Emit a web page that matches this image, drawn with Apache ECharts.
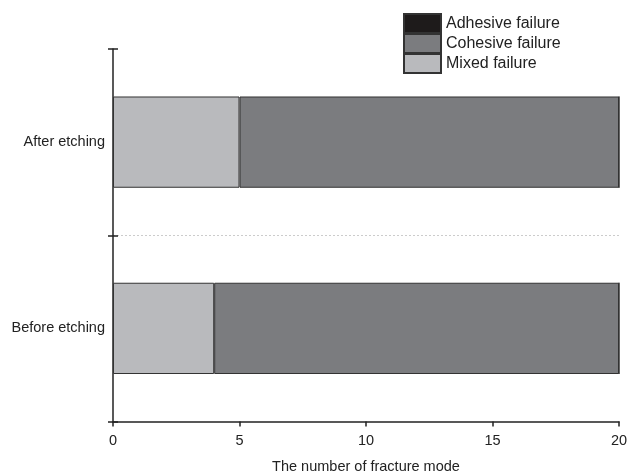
<!DOCTYPE html>
<html><head><meta charset="utf-8">
<script src="https://cdn.jsdelivr.net/npm/echarts@6/dist/echarts.min.js"></script>
<style>html,body{margin:0;padding:0;background:#fff}#c{width:628px;height:474px}</style>
</head><body><div id="c"></div>
<script>
var categories = ['Before etching', 'After etching'];
var mixed = [4, 5];
var cohesive = [16, 15];
var adhesive = [0, 0];
var xTicks = [0, 5, 10, 15, 20];

var font = 'Liberation Sans, Arial, sans-serif';
var chart = echarts.init(document.getElementById('c'), null, {renderer: 'canvas'});
var border = {borderColor: '#333', borderWidth: 1};
chart.setOption({
  backgroundColor: '#fff',
  animation: false,
  legend: {
    orient: 'vertical', left: 403, top: 13, padding: 0,
    itemWidth: 37, itemHeight: 19, itemGap: -1,
    icon: 'rect',
    data: ['Adhesive failure', 'Cohesive failure', 'Mixed failure'],
    textStyle: {fontFamily: font, fontSize: 16, lineHeight: 19, color: '#222'}
  },
  grid: {left: 113, right: 9, top: 49, bottom: 52.5, containLabel: false, outerBoundsMode: 'none'},
  xAxis: {
    type: 'value', min: xTicks[0], max: xTicks[xTicks.length - 1], interval: 5,
    name: 'The number of fracture mode', nameLocation: 'middle', nameGap: 38,
    nameTextStyle: {fontFamily: font, fontSize: 14.5, color: '#222'},
    axisLine: {show: true, lineStyle: {color: '#222', width: 1.5}},
    axisTick: {show: true, length: 5, lineStyle: {color: '#222', width: 1.5}},
    axisLabel: {fontFamily: font, fontSize: 14.5, color: '#222', margin: 12},
    splitLine: {show: false}
  },
  yAxis: [{
    type: 'category', data: categories,
    axisLine: {show: true, lineStyle: {color: '#222', width: 1.5}},
    axisTick: {show: true, length: 5, lineStyle: {color: '#222', width: 1.5}},
    axisLabel: {fontFamily: font, fontSize: 14.5, color: '#222', margin: 8},
    splitLine: {show: true, showMinLine: false, showMaxLine: false, lineStyle: {color: '#ccc', type: [2, 2], width: 1}}
  }, {
    type: 'category', data: categories, position: 'left',
    axisLine: {show: false},
    axisTick: {show: true, inside: true, length: 5, lineStyle: {color: '#222', width: 1.5}},
    axisLabel: {show: false},
    splitLine: {show: false}
  }],
  series: [
    {name: 'Mixed failure', type: 'bar', stack: 's', data: mixed, barWidth: '49%',
     itemStyle: Object.assign({color: '#b9babd'}, border)},
    {name: 'Cohesive failure', type: 'bar', stack: 's', data: cohesive, barWidth: '49%',
     itemStyle: Object.assign({color: '#7b7c7f'}, border)},
    {name: 'Adhesive failure', type: 'bar', stack: 's', data: adhesive, barWidth: '49%',
     itemStyle: Object.assign({color: '#1e1b1b'}, border)}
  ]
});
</script></body></html>
